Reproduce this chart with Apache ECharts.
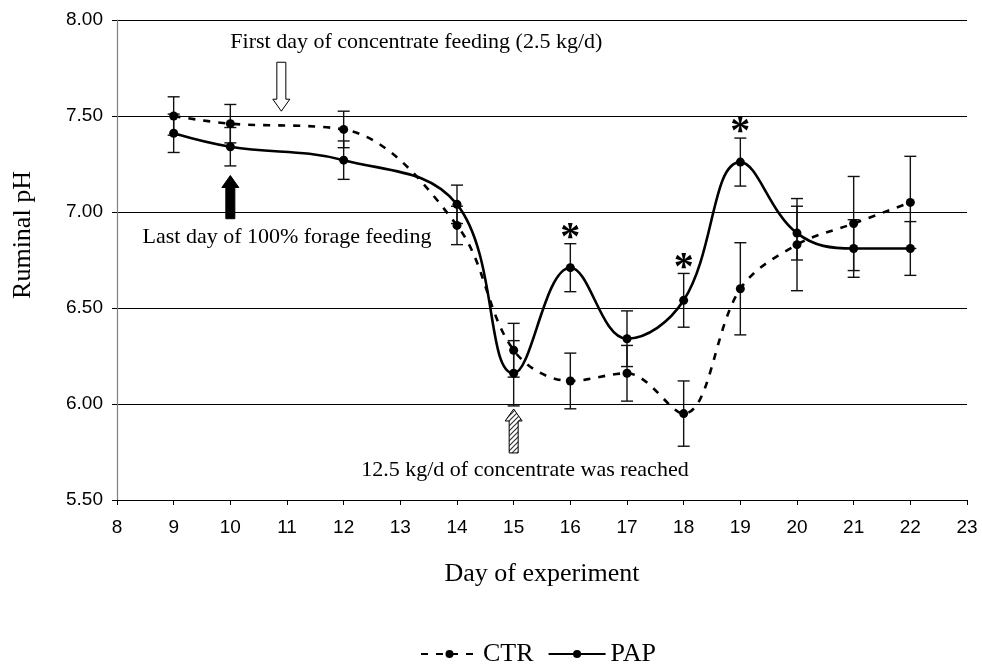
<!DOCTYPE html>
<html>
<head>
<meta charset="utf-8">
<script src="https://cdn.jsdelivr.net/npm/echarts@6/dist/echarts.min.js"></script>
<style>
html,body{margin:0;padding:0;background:#fff;}
#chart{width:982px;height:667px;}
</style>
</head>
<body>
<div id="chart"></div>
<script>
// ---- data ----
const days    = [9, 10, 12, 14, 15, 16, 17, 18, 19, 20, 21, 22];
const ctrPH   = [7.50, 7.46, 7.43, 6.93, 6.28, 6.12, 6.16, 5.95, 6.60, 6.83, 6.94, 7.05];
const ctrSE   = [0.10, 0.10, 0.095, 0.10, 0.14, 0.145, 0.145, 0.17, 0.24, 0.24, 0.245, 0.24];
const papPH   = [7.41, 7.34, 7.27, 7.04, 6.16, 6.71, 6.34, 6.54, 7.26, 6.89, 6.81, 6.81];
const papSE   = [0.10, 0.10, 0.10, 0.10, 0.17, 0.125, 0.145, 0.14, 0.125, 0.14, 0.15, 0.14];
const sigDays = [16, 18, 19];
const xTicks  = [8, 23, 1];       // min, max, interval
const yTicks  = [5.5, 8.0, 0.5];  // min, max, interval
const seriesNames = ['CTR', 'PAP'];
const notes = {
  first: 'First day of concentrate feeding (2.5 kg/d)',
  last: 'Last day of 100% forage feeding',
  reached: '12.5 kg/d of concentrate was reached'
};

const serif = '"Liberation Serif", "Times New Roman", serif';
const sans = '"Liberation Sans", Arial, sans-serif';

function pairs(vals){ return days.map((d,i)=>[d, vals[i]]); }
function errs(vals, se){ return days.map((d,i)=>[d, vals[i]-se[i], vals[i]+se[i]]); }
const sigData = sigDays.map(d => { const i = days.indexOf(d); return [d, papPH[i] + papSE[i]]; });

function errRender(params, api){
  const x = api.value(0), lo = api.value(1), hi = api.value(2);
  const a = api.coord([x, hi]), b = api.coord([x, lo]);
  const w = 6;
  const st = {stroke:'#111', lineWidth:1.4};
  return {type:'group', children:[
    {type:'line', shape:{x1:a[0],y1:a[1],x2:b[0],y2:b[1]}, style:st},
    {type:'line', shape:{x1:a[0]-w,y1:a[1],x2:a[0]+w,y2:a[1]}, style:st},
    {type:'line', shape:{x1:b[0]-w,y1:b[1],x2:b[0]+w,y2:b[1]}, style:st}
  ]};
}
function starRender(params, api){
  const p = api.coord([api.value(0), api.value(1)]);
  return {type:'text', x:p[0], y:p[1]+15, style:{text:'*', font:'bold 40px ' + serif, fill:'#000', align:'center', verticalAlign:'bottom'}};
}

const chart = echarts.init(document.getElementById('chart'), null, {renderer:'canvas'});
const option = {
  animation:false,
  backgroundColor:'#fff',
  grid:{left:117, top:20, right:15, bottom:167, containLabel:false},
  xAxis:{
    type:'value', min:xTicks[0], max:xTicks[1], interval:xTicks[2],
    name:'Day of experiment', nameLocation:'middle', nameGap:61,
    nameTextStyle:{fontFamily:serif, fontSize:26, color:'#000'},
    axisLine:{show:true, onZero:false, lineStyle:{color:'#000', width:1}},
    axisTick:{show:true, inside:false, length:5, lineStyle:{color:'#000'}},
    axisLabel:{fontFamily:sans, fontSize:19, color:'#000', margin:18},
    splitLine:{show:false}
  },
  yAxis:{
    type:'value', min:yTicks[0], max:yTicks[1], interval:yTicks[2],
    axisLine:{show:true, lineStyle:{color:'#808080', width:1.2}},
    axisTick:{show:true, inside:false, length:5, lineStyle:{color:'#000'}},
    axisLabel:{fontFamily:sans, fontSize:19, color:'#000', margin:14, formatter:v=>v.toFixed(2)},
    splitLine:{show:true, lineStyle:{color:'#000', width:1}}
  },
  legend:{
    data:seriesNames, left:415, top:636, itemWidth:57, itemHeight:10, itemGap:14,
    textStyle:{fontFamily:serif, fontSize:26, color:'#000'}
  },
  series:[
    {type:'custom', name:'ctrErr', renderItem:errRender, data:errs(ctrPH, ctrSE), z:2, silent:true},
    {type:'custom', name:'papErr', renderItem:errRender, data:errs(papPH, papSE), z:2, silent:true},
    {type:'line', name:seriesNames[0], data:pairs(ctrPH), smooth:0.35, symbol:'circle', symbolSize:9,
      itemStyle:{color:'#000'}, lineStyle:{color:'#000', width:2.6, type:[7,8]}, z:3},
    {type:'line', name:seriesNames[1], data:pairs(papPH), smooth:0.4, symbol:'circle', symbolSize:9,
      itemStyle:{color:'#000'}, lineStyle:{color:'#000', width:2.6, type:'solid'}, z:4},
    {type:'custom', name:'sig', renderItem:starRender, data:sigData, z:5, silent:true}
  ]
};
chart.setOption(option);

// hatched pattern
const pc = document.createElement('canvas');
pc.width = 5; pc.height = 5;
const pctx = pc.getContext('2d');
pctx.fillStyle = '#fff'; pctx.fillRect(0,0,5,5);
pctx.strokeStyle = '#333'; pctx.lineWidth = 1.2;
pctx.beginPath(); pctx.moveTo(0,5); pctx.lineTo(5,0); pctx.moveTo(-1,1); pctx.lineTo(1,-1); pctx.moveTo(4,6); pctx.lineTo(6,4); pctx.stroke();

function px(x, y){ return chart.convertToPixel({gridIndex:0}, [x, y]); }
function arrow(cx, tipY, tailY, fill, stroke){
  const dir = tailY > tipY ? 1 : -1;
  const hw = 4.5, hh = 8.5, hl = 12;
  const base = tipY + dir*hl;
  return {type:'polygon', shape:{points:[
    [cx, tipY], [cx+hh, base], [cx+hw, base], [cx+hw, tailY], [cx-hw, tailY], [cx-hw, base], [cx-hh, base]
  ]}, style:{fill:fill, stroke:stroke, lineWidth:1}, z:10};
}
const aW = [px(10.9, 7.78), px(10.9, 7.525)];
const aB = [px(10.0, 7.19), px(10.0, 6.965)];
const aH = [px(15.0, 5.974), px(15.0, 5.745)];
const t1 = px(10.0, 7.885), t2 = px(8.45, 6.87), t3 = px(12.31, 5.655);
chart.setOption({graphic:[
  arrow(aW[0][0], aW[1][1], aW[0][1], '#fff', '#000'),
  arrow(aB[0][0], aB[0][1], aB[1][1], '#000', '#000'),
  arrow(aH[0][0], aH[0][1], aH[1][1], {image:pc, repeat:'repeat'}, '#000'),
  {type:'text', x:t1[0], y:t1[1], style:{text:notes.first, font:'22px ' + serif, fill:'#000', align:'left', verticalAlign:'middle'}, z:10},
  {type:'text', x:t2[0], y:t2[1], style:{text:notes.last, font:'22px ' + serif, fill:'#000', align:'left', verticalAlign:'middle'}, z:10},
  {type:'text', x:t3[0], y:t3[1], style:{text:notes.reached, font:'22px ' + serif, fill:'#000', align:'left', verticalAlign:'middle'}, z:10},
  {type:'text', x:23, y:235, rotation:Math.PI/2, style:{text:'Ruminal pH', font:'26px ' + serif, fill:'#000', align:'center', verticalAlign:'middle'}, z:10}
]});
</script>
</body>
</html>
